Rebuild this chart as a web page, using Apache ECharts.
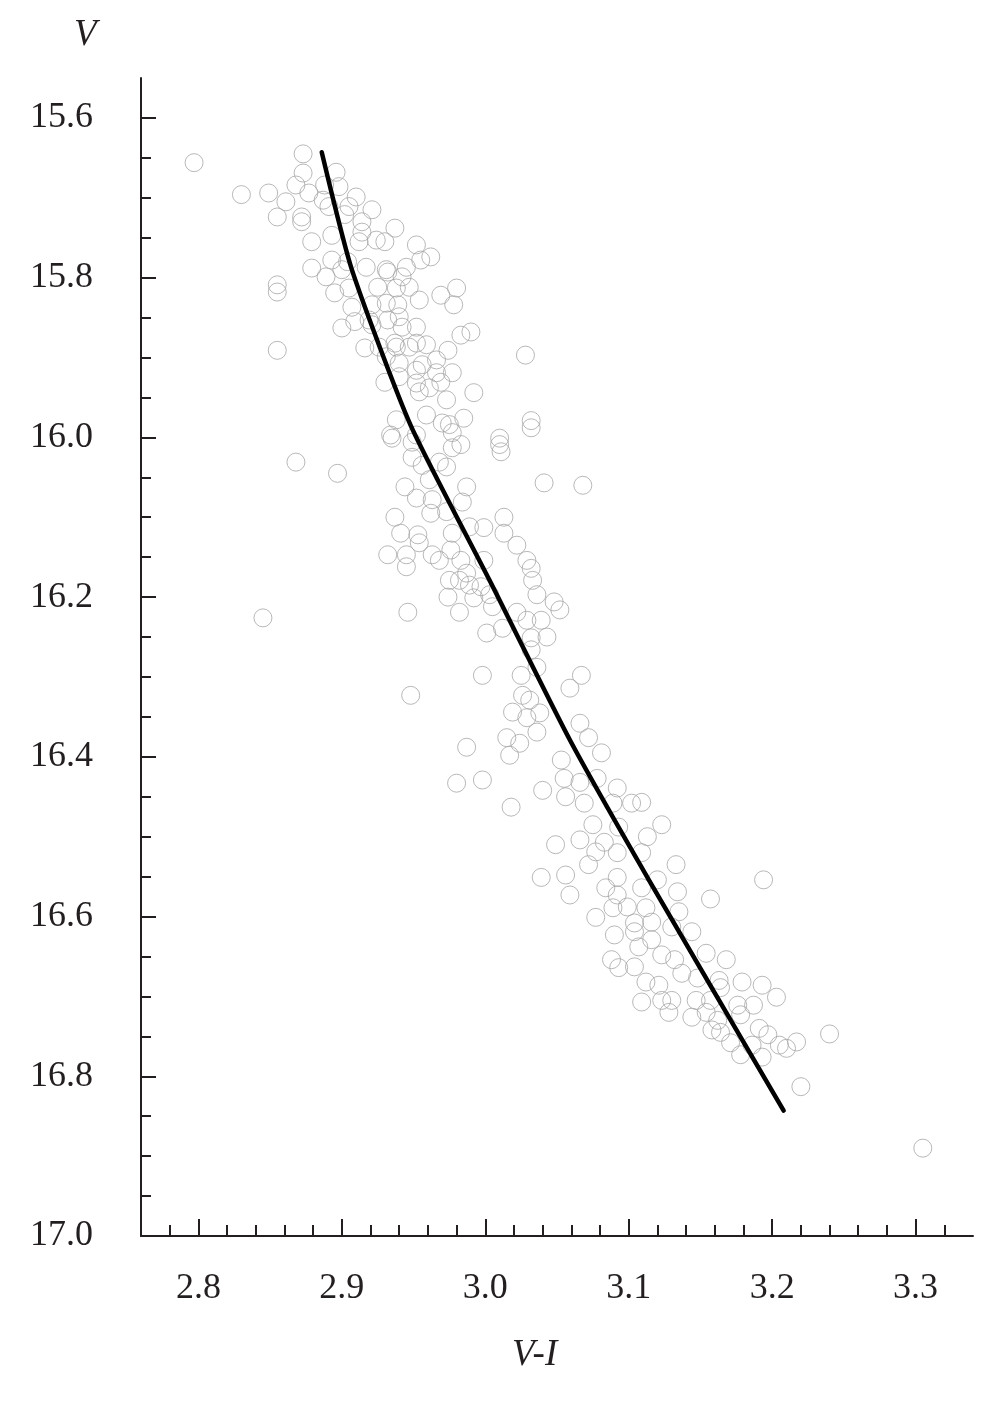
<!DOCTYPE html>
<html>
<head>
<meta charset="utf-8">
<script src="https://cdn.jsdelivr.net/npm/echarts@6/dist/echarts.min.js"></script>
<style>
html,body{margin:0;padding:0;background:#fff;}
#chart{width:1004px;height:1411px;}
</style>
</head>
<body>
<div id="chart"></div>
<script>
// Tick labels / tick positions
const xMajorTicks = [2.8, 2.9, 3.0, 3.1, 3.2, 3.3];
const xMinorTicks = [2.78, 2.80, 2.82, 2.84, 2.86, 2.88, 2.90, 2.92, 2.94, 2.96, 2.98, 3.00, 3.02, 3.04, 3.06, 3.08, 3.10, 3.12, 3.14, 3.16, 3.18, 3.20, 3.22, 3.24, 3.26, 3.28, 3.30, 3.32];
const yMajorTicks = [15.6, 15.8, 16.0, 16.2, 16.4, 16.6, 16.8, 17.0];
const yMinorTicks = [15.6, 15.65, 15.7, 15.75, 15.8, 15.85, 15.9, 15.95, 16.0, 16.05, 16.1, 16.15, 16.2, 16.25, 16.3, 16.35, 16.4, 16.45, 16.5, 16.55, 16.6, 16.65, 16.7, 16.75, 16.8, 16.85, 16.9, 16.95, 17.0];

// Stars: [V-I, V]
const stars = [
[2.797,15.656],[2.873,15.645],[2.830,15.696],[2.849,15.694],[2.873,15.669],[2.868,15.684],[2.877,15.694],[2.861,15.705],
[2.855,15.724],[2.872,15.724],[2.887,15.703],[2.896,15.668],[2.898,15.686],[2.910,15.699],[2.905,15.711],[2.921,15.715],
[2.891,15.711],[2.855,15.809],[2.855,15.818],[2.855,15.891],[2.888,15.684],[2.902,15.721],[2.914,15.730],
[2.872,15.730],[2.879,15.755],[2.893,15.747],[2.914,15.743],[2.924,15.753],[2.937,15.738],[2.952,15.759],[2.962,15.774],
[2.879,15.788],[2.889,15.799],[2.893,15.778],[2.900,15.790],[2.917,15.787],[2.931,15.790],[2.945,15.787],[2.942,15.799],
[2.895,15.819],[2.905,15.813],[2.925,15.812],[2.947,15.812],[2.954,15.828],[2.969,15.822],[2.980,15.813],[2.978,15.834],
[2.907,15.837],[2.931,15.832],[2.939,15.834],[2.900,15.863],[2.909,15.855],[2.919,15.853],[2.940,15.849],[2.952,15.862],
[2.983,15.872],[2.990,15.868],[2.916,15.888],[2.937,15.882],[2.947,15.887],[2.959,15.884],[2.974,15.891],[2.931,15.899],
[2.940,15.907],[2.956,15.909],[2.966,15.919],[2.977,15.919],[2.992,15.944],[2.930,15.931],[2.940,15.924],[2.952,15.932],
[2.969,15.931],[2.954,15.943],[2.973,15.953],[2.938,15.978],[2.959,15.972],[2.970,15.982],[2.985,15.976],
[2.912,15.755],[2.930,15.755],[2.955,15.778],[2.904,15.780],[2.932,15.793],[2.938,15.813],[2.921,15.834],[2.921,15.859],
[2.932,15.853],[2.942,15.862],[2.926,15.887],[2.938,15.887],[2.952,15.882],[2.966,15.903],[2.952,15.916],[2.961,15.938],
[2.975,15.984],[2.934,15.997],[2.952,15.997],[2.977,15.994],
[3.028,15.897],[3.032,15.979],
[2.935,16.001],[2.949,16.006],[2.977,16.013],[2.983,16.009],[2.949,16.025],[2.956,16.035],[2.968,16.031],[2.973,16.037],
[3.010,16.001],[3.010,16.009],[3.011,16.018],[3.032,15.988],[2.944,16.062],[2.952,16.076],[2.961,16.053],[2.963,16.078],
[2.962,16.095],[2.973,16.093],[2.984,16.081],[2.987,16.062],[3.041,16.057],[3.068,16.060],[2.937,16.100],[2.941,16.120],
[2.953,16.122],[2.954,16.132],[2.932,16.147],[2.945,16.147],[2.945,16.162],[2.963,16.147],[2.968,16.154],[2.976,16.141],
[2.977,16.120],[2.983,16.154],[2.989,16.112],[2.999,16.113],[3.013,16.100],[3.013,16.120],[3.022,16.135],[2.975,16.179],
[2.982,16.179],[2.987,16.170],[2.989,16.185],[2.999,16.154],[2.997,16.187],[2.974,16.200],[2.982,16.219],[2.992,16.201],
[3.003,16.197],[3.005,16.212],[3.029,16.154],[3.032,16.164],[3.033,16.179],[3.036,16.197],[3.048,16.206],[3.052,16.216],
[2.946,16.219],[3.001,16.245],[3.012,16.239],[3.022,16.219],[3.029,16.229],[3.039,16.229],[3.032,16.251],[3.043,16.250],
[3.032,16.266],[2.998,16.298],[3.025,16.298],[3.036,16.288],[2.948,16.323],[3.026,16.323],[3.031,16.329],[3.059,16.314],
[3.067,16.298],[3.019,16.344],[3.029,16.351],[3.038,16.345],
[2.868,16.031],[2.897,16.045],[2.845,16.226],
[2.987,16.388],[3.015,16.376],[3.024,16.383],[3.017,16.398],[3.036,16.369],[3.066,16.358],[3.072,16.376],[3.081,16.395],
[2.980,16.433],[2.998,16.429],[3.040,16.442],[3.018,16.463],[3.053,16.404],[3.055,16.427],[3.066,16.432],[3.056,16.450],
[3.078,16.427],[3.092,16.439],[3.049,16.510],[3.039,16.551],
[3.069,16.458],[3.089,16.458],[3.102,16.458],[3.109,16.457],[3.075,16.485],[3.093,16.488],[3.123,16.485],[3.113,16.500],
[3.066,16.504],[3.083,16.507],[3.077,16.519],[3.092,16.520],[3.109,16.520],[3.072,16.535],[3.133,16.535],[3.056,16.548],
[3.092,16.551],[3.120,16.554],[3.194,16.554],[3.084,16.564],[3.109,16.564],[3.092,16.573],[3.134,16.569],[3.059,16.573],
[3.157,16.578],[3.077,16.601],[3.089,16.589],[3.099,16.588],[3.112,16.589],[3.135,16.594],[3.104,16.608],[3.116,16.607],
[3.130,16.613],[3.090,16.623],[3.104,16.619],[3.116,16.629],[3.144,16.619],[3.107,16.638],[3.088,16.654],[3.093,16.664],
[3.104,16.663],
[3.123,16.648],[3.132,16.654],[3.154,16.646],[3.168,16.654],[3.112,16.682],[3.121,16.686],[3.137,16.671],[3.148,16.677],
[3.163,16.680],[3.164,16.689],[3.179,16.682],[3.193,16.686],[3.203,16.701],[3.109,16.707],[3.123,16.705],[3.130,16.705],
[3.147,16.705],[3.157,16.705],[3.128,16.720],[3.144,16.726],[3.154,16.720],[3.176,16.711],[3.187,16.711],[3.178,16.723],
[3.162,16.730],[3.158,16.742],[3.164,16.745],[3.191,16.740],[3.197,16.748],[3.205,16.761],[3.210,16.765],[3.217,16.757],
[3.240,16.747],[3.171,16.758],[3.186,16.761],[3.178,16.773],[3.193,16.776],[3.220,16.813],[3.305,16.890]
];

// Fitted sequence line: [V-I, V]
const fitLine = [
[2.886,15.643],[2.907,15.790],[2.948,15.985],[3.003,16.179],[3.059,16.379],[3.114,16.554],[3.208,16.843]
];

const serif = "'Liberation Serif','Times New Roman',serif";
const ink = '#231f20';

const chart = echarts.init(document.getElementById('chart'));
chart.setOption({
  backgroundColor: '#ffffff',
  animation: false,
  title: [
    {text: 'V', left: 74, top: 17, padding: 0,
     textStyle: {fontFamily: serif, fontStyle: 'italic', fontWeight: 'normal', fontSize: 37, color: ink}},
    {text: 'V-I', left: 512, top: 1337, padding: 0,
     textStyle: {fontFamily: serif, fontStyle: 'italic', fontWeight: 'normal', fontSize: 37, color: ink}}
  ],
  grid: {left: 141, right: 31, top: 78, bottom: 175, containLabel: false},
  xAxis: [
    {type: 'value', min: 2.76, max: 3.34, interval: 0.02, position: 'bottom',
     axisLine: {show: true, lineStyle: {color: ink, width: 2}},
     axisTick: {show: true, inside: true, length: 11, lineStyle: {color: ink, width: 2}, customValues: xMinorTicks},
     axisLabel: {show: true, customValues: xMajorTicks, margin: 35, fontFamily: serif, fontSize: 36, color: ink,
       formatter: v => v.toFixed(1)},
     splitLine: {show: false}},
    {type: 'value', min: 2.76, max: 3.34, interval: 0.02, position: 'bottom',
     axisLine: {show: false},
     axisTick: {show: true, inside: true, length: 17, lineStyle: {color: ink, width: 2}, customValues: xMajorTicks},
     axisLabel: {show: false}, splitLine: {show: false}}
  ],
  yAxis: [
    {type: 'value', inverse: true, min: 15.55, max: 17.0, interval: 0.05, position: 'left',
     axisLine: {show: true, lineStyle: {color: ink, width: 2}},
     axisTick: {show: true, inside: true, length: 10, lineStyle: {color: ink, width: 2}, customValues: yMinorTicks},
     axisLabel: {show: true, customValues: yMajorTicks, margin: 48, fontFamily: serif, fontSize: 36, color: ink,
       formatter: v => v.toFixed(1)},
     splitLine: {show: false}},
    {type: 'value', inverse: true, min: 15.55, max: 17.0, interval: 0.05, position: 'left',
     axisLine: {show: false},
     axisTick: {show: true, inside: true, length: 15, lineStyle: {color: ink, width: 2}, customValues: yMajorTicks},
     axisLabel: {show: false}, splitLine: {show: false}}
  ],
  series: [
    {type: 'scatter', xAxisIndex: 0, yAxisIndex: 0, data: stars, symbol: 'circle', symbolSize: 18,
     itemStyle: {color: 'rgba(255,255,255,0)', borderColor: '#a6a6a6', borderWidth: 1}, z: 2},
    {type: 'line', xAxisIndex: 0, yAxisIndex: 0, data: fitLine, showSymbol: false, symbol: 'none', smooth: 0.2,
     lineStyle: {color: '#000', width: 4.5, cap: 'round', join: 'round'}, z: 3}
  ]
});
</script>
</body>
</html>
